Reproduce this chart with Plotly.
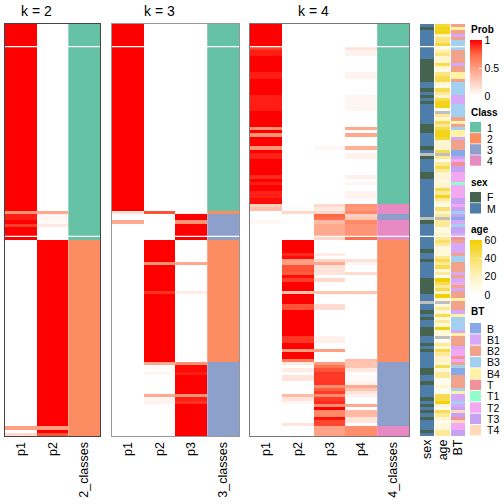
import plotly.graph_objects as go

N_ROWS = 128

# membership probabilities, run-length encoded: (rows, p1, p2, ...)
K2_RUNS = [(58, 1, 0), (1, .55, .45), (2, .93, .05), (1, 1, .03), (1, .85, .12), (4, 1, 0),
           (58, 0, 1), (1, .5, .5), (1, 0, 1), (1, .2, .8)]
K3_RUNS = [(58, 1, 0, 0), (1, .15, .8, .05), (2, 0, 0, 1), (1, .45, 0, .55), (5, 0, 0, 1),
           (7, 0, 1, 0), (1, 0, .55, .45), (8, 0, 1, 0), (1, 0, .88, .1), (21, 0, 1, 0),
           (1, 0, .45, .55), (2, 0, .02, .98), (1, 0, .05, .93), (6, 0, 0, 1), (1, 0, .45, .55),
           (1, 0, .05, .93), (1, 0, .06, .88), (10, 0, 0, 1)]
K4_RUNS = [(7, 1, 0, 0, 0), (1, .85, 0, 0, .15), (2, .93, 0, 0, .06), (5, 1, 0, 0, 0),
           (2, .93, 0, 0, .06), (5, 1, 0, 0, 0), (5, .93, 0, 0, .05), (5, 1, 0, 0, 0),
           (1, .55, 0, 0, .45), (1, 1, 0, 0, 0), (1, .55, 0, 0, .45), (3, 1, 0, 0, 0),
           (1, .55, 0, .04, .41), (1, 1, 0, 0, 0), (2, .92, 0, 0, .07), (5, 1, 0, 0, 0),
           (1, .9, 0, 0, .08), (1, 1, 0, 0, 0), (1, .93, 0, 0, .05), (2, 1, 0, 0, 0),
           (2, .92, 0, 0, .06), (2, .97, 0, 0, .02),
           (1, .25, 0, .2, .55), (1, .33, .02, .12, .53), (1, 0, .2, .2, .6), (1, 0, 0, .75, .25),
           (1, 0, 0, .7, .3), (1, .04, 0, .36, .6), (4, 0, 0, .45, .55), (1, 0, 0, .22, .72),
           (4, 0, 1, 0, 0), (1, 0, .9, .1, 0), (1, 0, .97, 0, 0), (1, 0, .5, .22, .16),
           (1, 0, .5, .45, .05), (2, 0, .8, .15, 0), (1, 0, .78, .14, .18), (1, 0, .97, 0, 0),
           (1, 0, .85, .2, 0), (3, 0, 1, 0, 0), (1, 0, .33, .3, .3), (3, 0, 1, 0, 0),
           (2, 0, .8, .18, 0), (8, 0, 1, 0, 0), (2, 0, .87, .08, 0), (2, 0, 1, 0, 0),
           (1, 0, .5, .5, 0), (2, 0, 1, 0, 0), (1, 0, .65, 0, .33),
           (1, 0, .12, .5, .3), (1, 0, 0, .7, .3), (1, 0, .1, .8, .12), (1, 0, 0, .87, 0),
           (2, 0, .14, .86, .03), (1, 0, 0, .87, .06), (1, 0, 0, .58, .45), (1, 0, 0, .78, .3),
           (1, 0, 0, .86, .14), (1, 0, .35, .58, .08), (1, 0, .14, .86, 0), (1, 0, .05, .9, 0),
           (1, 0, 0, .58, .45), (1, 0, 0, 1, 0), (2, 0, 0, .6, .36), (1, 0, 0, .96, .14),
           (1, 0, 0, .83, .14), (1, 0, .14, .83, 0), (3, 0, 0, .48, .58)]

# class assignment, run-length encoded: (rows, class)
CLASS2_RUNS = [(67, 1), (61, 2)]
CLASS3_RUNS = [(58, 1), (1, 2), (8, 3), (38, 2), (23, 3)]
CLASS4_RUNS = [(56, 1), (3, 4), (2, 3), (6, 4), (38, 2), (20, 3), (3, 4)]

# white separator lines (row index where they appear)
GAP_ROWS = [7, 66]

SEX = (["M", "F"] + ["M"] * 9 + ["F"] * 7 + ["M", "M", "F", "M", "F", "M", "F"] + ["M"] * 6
       + ["F"] * 3 + ["M"] * 4 + ["F", "M", None, "F"] + ["M"] * 4 + ["F"] * 2 + ["M"] * 12
       + [None, "F"] + ["M"] * 8 + ["F", "M", "M", "F"] + ["M"] * 5 + ["F"] * 5 + ["M", "M", None]
       + ["M", "M", "F", "M", "F", "M", "M", "F", "F", "F", "M", "M", "F", "M", "F"]
       + ["M"] * 5 + ["F", "F", "M", "M", "F"] + ["M"] * 4
       + ["F", "M", "F", "M", "F", "M", "F", "M", "M", "M", "F", "M"])

AGE = [50, 55, 55, 20, 35, 35, 50, 10, 25, 35, 15, 15, 45, 15, 8, 35, 45, 45, 15, 8, 45,
       30, 15, 45, 55, 55, 5, None, 30, 15, 45, 30, 45, 55, 55, 50, 15, 15, 15, 45, None, 30, 8,
       30, 45, 30, 15, 15, 10, 15, 15, 45, 30, 55, 30, 15, 5, 40, 15, 30, None, 30, 30, 10, 10,
       20, 30, 40, 30, 12, 12, 12, 30, 45, 30, 45, 12, 30, 5, 60, 45, 30, 45, 15, 60, 12, None,
       12, 30, 12, 45, 12, 30, 12, 58, 12, 12, None, 5, 30, 15, 45, 30, 15, 20, 12, 45, 12,
       30, 30, 5, 5, 15, 5, 5, 45, 45, 58, 15, 5, 45, 30, 15, 5, 12, 12, 30, 30]

BT = ["B2", "B4", "B2", "B1", "B2", "B3", "B3", "B3", "B2", "B2", "B2", "B2", "B1", "B2", "B2",
      "B4", "B4", "B2", "B3", "B3", "B3",
      "B3", "B1", "B1", "B1", "B3", "B3", "B3", "B3", "B2", "B4", "B2", "B3", "B4", "B4", "B1",
      "B2", "B2", "B2", "B", "B", "T3", "T2",
      "T", "T3", "T3", "T2", "T2", "T2", "T1", "T2", "T2", "T2", "T2", "T3", "T3", "T2", "T3",
      "B3", "T3", "B", "B1", "B3", "T3", "T3",
      "B1", "T", "B2", "B1", "B1", "B1", "B2", "B3", "B3", "B2", "B2", "B2", "B1", "B2", "B1",
      "T2", "B2", "B1", "B2", "B2", "B4", "B2",
      "B2", "B2", "B1", "B4", "B3", "B3", "B3", "B3", "B1", "B4", "B2", "B2", "B2", "B1", "T2",
      "T2", "T", "T2", "B2", "B3", "B",
      "B", "B2", "B2", "B2", "B2", "B3", "B4", "B1", "B1", "B3", "B1", "T3", "T4", "T3", "T",
      "T4", "T2", "T2", "T3", "T3"]

CLASS_LEVELS = ["1", "2", "3", "4"]
CLASS_COLORS = ["#66C2A5", "#FC8D62", "#8DA0CB", "#E78AC3"]
SEX_LEVELS = ["F", "M"]
SEX_COLORS = ["#45634F", "#4E7DAA"]
NA_COLOR = "#BEBEBE"
BT_LEVELS = ["B", "B1", "B2", "B3", "B4", "T", "T1", "T2", "T3", "T4"]
BT_COLORS = ["#88A8E8", "#D8A8F8", "#F0A38A", "#A3D0F0", "#FFF3A3",
             "#F2919A", "#90FFCB", "#F2A9F2", "#C6A3F2", "#FFDAB8"]
PROB_SCALE = [[0, "#FFFFFF"], [0.25, "#FFCFBF"], [0.5, "#FF9E81"], [0.75, "#FF6846"], [1, "#FF0000"]]
AGE_SCALE = [[0, "#FFFFFF"], [0.33, "#FFF3C2"], [0.67, "#F9E06A"], [1, "#F0D000"]]

FONT = "Liberation Sans, Arial, sans-serif"
W = H = 504
TOP, BOT = 24, 436
PANEL_PX = [(5, 100), (112, 239), (250, 409)]
PANEL_LINE = ["#444444", "#999999", "#777777"]
ANNO_PX = [(420, 434), (435, 450), (451, 465)]


def px_x(p):
    return p / W


def px_y(p):
    return 1 - p / H


def expand_probs(runs):
    out = []
    for r in runs:
        out.extend([list(r[1:]) for _ in range(r[0])])
    return out


def expand_class(runs):
    out = []
    for n, c in runs:
        out.extend([c] * n)
    return out


def discrete(colors):
    n = len(colors)
    cs = []
    for i, c in enumerate(colors):
        cs += [[i / n, c], [(i + 1) / n, c]]
    return cs


rows = list(range(N_ROWS))
fig = go.Figure()
layout = dict(width=W, height=H, margin=dict(l=0, r=0, t=0, b=0, autoexpand=False),
              paper_bgcolor="white", plot_bgcolor="white",
              font=dict(family=FONT, color="black"), shapes=[], annotations=[])
ydom = [px_y(BOT), px_y(TOP)]

panels = [(2, K2_RUNS, CLASS2_RUNS), (3, K3_RUNS, CLASS3_RUNS), (4, K4_RUNS, CLASS4_RUNS)]
for i, (k, runs, cruns) in enumerate(panels):
    sfx = "" if i == 0 else str(i + 1)
    xa, ya = "x" + sfx, "y" + sfx
    labels = [f"p{j}" for j in range(1, k + 1)] + [f"{k}_classes"]
    fig.add_trace(go.Heatmap(z=expand_probs(runs), x0=0, dx=1, y=rows, coloraxis="coloraxis",
                             xaxis=xa, yaxis=ya, hoverinfo="skip"))
    cls = expand_class(cruns)
    fig.add_trace(go.Heatmap(z=[[c - 1] for c in cls], x0=k, dx=1, y=rows,
                             colorscale=discrete(CLASS_COLORS), zmin=-0.5, zmax=3.5,
                             showscale=False, xaxis=xa, yaxis=ya, hoverinfo="skip"))
    d = [px_x(PANEL_PX[i][0]), px_x(PANEL_PX[i][1])]
    layout["xaxis" + sfx] = dict(domain=d, anchor=ya, range=[-0.5, k + 0.5],
                                 tickvals=list(range(k + 1)), ticktext=labels,
                                 tickangle=-90, tickfont=dict(size=12.5), ticks="",
                                 showgrid=False, zeroline=False, showline=True, mirror=True,
                                 linecolor=PANEL_LINE[i], linewidth=1.2, fixedrange=True)
    layout["yaxis" + sfx] = dict(domain=ydom, anchor=xa, range=[N_ROWS - 0.5, -0.5],
                                 showticklabels=False, ticks="", showgrid=False, zeroline=False,
                                 showline=True, mirror=True, linecolor=PANEL_LINE[i],
                                 linewidth=1.2, fixedrange=True)
    # panel title centred over the probability columns
    tx = d[0] + (d[1] - d[0]) * (k / (k + 1)) / 2
    layout["annotations"].append(dict(text=f"k = {k}", x=tx, y=px_y(10.5), xref="paper",
                                      yref="paper", showarrow=False, xanchor="center",
                                      yanchor="middle", font=dict(size=14)))
    for g in GAP_ROWS:
        layout["shapes"].append(dict(type="line", xref=xa + " domain", yref=ya, x0=0, x1=1,
                                     y0=g - 0.5, y1=g - 0.5, line=dict(color="white", width=1.3)))

# annotation columns: sex, age, BT
anno_axes = [("x4", "sex"), ("x5", "age"), ("x6", "BT")]
sex_idx = [[SEX_LEVELS.index(s) if s is not None else 2] for s in SEX]
fig.add_trace(go.Heatmap(z=sex_idx, x0=0, dx=1, y=rows,
                         colorscale=discrete(SEX_COLORS + [NA_COLOR]), zmin=-0.5, zmax=2.5,
                         showscale=False, xaxis="x4", yaxis="y4", hoverinfo="skip"))
fig.add_trace(go.Heatmap(z=[[1] if a is None else [None] for a in AGE], x0=0, dx=1, y=rows,
                         colorscale=[[0, NA_COLOR], [1, NA_COLOR]], showscale=False,
                         xaxis="x5", yaxis="y4", hoverinfo="skip"))
fig.add_trace(go.Heatmap(z=[[a] for a in AGE], x0=0, dx=1, y=rows, coloraxis="coloraxis2",
                         xaxis="x5", yaxis="y4", hoverinfo="skip"))
fig.add_trace(go.Heatmap(z=[[BT_LEVELS.index(b)] for b in BT], x0=0, dx=1, y=rows,
                         colorscale=discrete(BT_COLORS), zmin=-0.5, zmax=len(BT_LEVELS) - 0.5,
                         showscale=False, xaxis="x6", yaxis="y4", hoverinfo="skip"))
for j, (xa, name) in enumerate(anno_axes):
    layout["xaxis" + xa[1:]] = dict(domain=[px_x(ANNO_PX[j][0]), px_x(ANNO_PX[j][1])],
                                    anchor="y4", range=[-0.5, 0.5], tickvals=[0],
                                    ticktext=[name], tickangle=-90,
                                    tickfont=dict(size=12.5), ticks="", showgrid=False,
                                    zeroline=False, showline=False, fixedrange=True)
layout["yaxis4"] = dict(domain=ydom, anchor="x4", range=[N_ROWS - 0.5, -0.5],
                        showticklabels=False, ticks="", showgrid=False, zeroline=False,
                        showline=False, fixedrange=True)
for g in GAP_ROWS:
    layout["shapes"].append(dict(type="line", xref="paper", yref="y4",
                                 x0=px_x(ANNO_PX[0][0]), x1=px_x(ANNO_PX[-1][1]),
                                 y0=g - 0.5, y1=g - 0.5, line=dict(color="white", width=1.3)))

# continuous legends via colorbars
cb_common = dict(xanchor="left", xpad=0, yanchor="top", ypad=0, lenmode="fraction",
                 thickness=12, thicknessmode="pixels", outlinewidth=0, ticks="inside",
                 tickcolor="white", ticklen=3, tickfont=dict(size=10.5, family=FONT),
                 title=dict(text=""))
layout["coloraxis"] = dict(colorscale=PROB_SCALE, cmin=0, cmax=1,
                           colorbar=dict(x=px_x(470), y=px_y(40), len=56 / H,
                                         tickvals=[0, 0.5, 1], ticktext=["0", "0.5", "1"],
                                         **cb_common))
layout["coloraxis2"] = dict(colorscale=AGE_SCALE, cmin=0, cmax=60,
                            colorbar=dict(x=px_x(470), y=px_y(240), len=55 / H,
                                          tickvals=[0, 20, 40, 60], **cb_common))


def legend_title(text, yc):
    layout["annotations"].append(dict(text=f"<b>{text}</b>", x=px_x(469), y=px_y(yc),
                                      xref="paper", yref="paper", showarrow=False,
                                      xanchor="left", yanchor="middle", font=dict(size=10)))


def legend_boxes(levels, colors, top, step=11.1, size=11):
    for n, (lab, col) in enumerate(zip(levels, colors)):
        y0 = top + n * step
        layout["shapes"].append(dict(type="rect", xref="paper", yref="paper",
                                     x0=px_x(470), x1=px_x(470 + size), y0=px_y(y0 + size - 0.6),
                                     y1=px_y(y0), fillcolor=col, line=dict(width=0)))
        layout["annotations"].append(dict(text=lab, x=px_x(485), y=px_y(y0 + size / 2),
                                          xref="paper", yref="paper", showarrow=False,
                                          xanchor="left", yanchor="middle",
                                          font=dict(size=10.5)))


legend_title("Prob", 29)
legend_title("Class", 113)
legend_boxes(CLASS_LEVELS, CLASS_COLORS, 122)
legend_title("sex", 182)
legend_boxes(SEX_LEVELS, SEX_COLORS, 192)
legend_title("age", 229.5)
legend_title("BT", 311.5)
legend_boxes(BT_LEVELS, BT_COLORS, 323, step=11.33)

fig.update_layout(**layout)
fig.write_html("out.html", config={"displayModeBar": False},
               post_script="document.body.style.margin='0';document.body.style.padding='0';")
